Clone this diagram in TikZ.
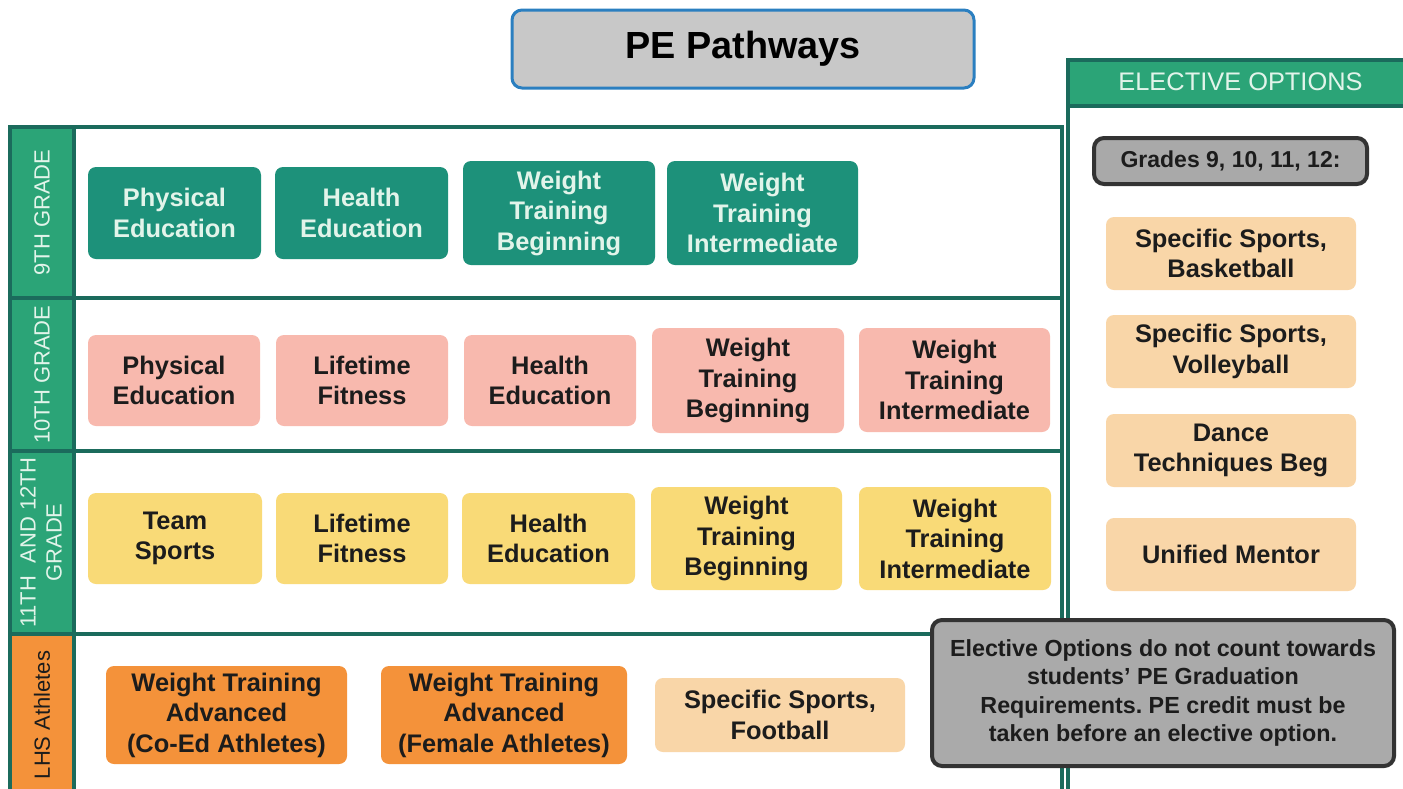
\documentclass[tikz,border=0pt]{standalone}
\usepackage{fontspec}
\setmainfont{Liberation Sans}
\frenchspacing
\definecolor{frame}{HTML}{1B6B5C}
\definecolor{lblgreen}{HTML}{2BA477}
\definecolor{teal}{HTML}{1D917A}
\definecolor{pink}{HTML}{F8B9AE}
\definecolor{yell}{HTML}{F9DA77}
\definecolor{orng}{HTML}{F4923A}
\definecolor{peach}{HTML}{F9D6A8}
\definecolor{notegrey}{HTML}{AAAAAA}
\definecolor{gradegrey}{HTML}{A9A9A9}
\definecolor{darkedge}{HTML}{333333}
\definecolor{titlegrey}{HTML}{C8C8C8}
\definecolor{titleblue}{HTML}{2B7FC0}
\definecolor{ink}{HTML}{1C1C1C}
\definecolor{lighttext}{HTML}{E2F4EA}
\begin{document}
\begin{tikzpicture}[x=0.5pt,y=-0.5pt,
  sz/.style 2 args={minimum width=#1*0.5pt, minimum height=#2*0.5pt},
  box/.style={rounded corners=4pt, inner sep=0pt, align=center, text=ink,
    font=\bfseries\fontsize{12.7}{15.25}\selectfont},
  tealbox/.style={box, fill=teal, text=lighttext},
  pinkbox/.style={box, fill=pink},
  yellbox/.style={box, fill=yell},
  orngbox/.style={box, fill=orng},
  peachbox/.style={box, fill=peach},
  gridline/.style={draw=frame, line width=2pt},
  rowlabel/.style={rotate=90, align=center, text=lighttext, inner sep=0pt,
    font=\fontsize{11}{13}\selectfont},
]
\path[use as bounding box, clip] (0,0) rectangle (1403,788);

% ---- main grid ----
\fill[white] (10,127) rectangle (1062,800);
\fill[lblgreen] (10,127) rectangle (74,634);
\fill[orng] (10,634) rectangle (74,800);
\draw[gridline] (10,127) rectangle (1062,800);
\draw[gridline] (74,127) -- (74,800);
\draw[gridline] (10,298) -- (1062,298);
\draw[gridline] (10,451) -- (1062,451);
\draw[gridline] (10,634) -- (1062,634);

% row labels
\node[rowlabel] (l9) at (42,212.5) {9TH GRADE};
\node[rowlabel] (l10) at (42,374.5) {10TH GRADE};
\node[rowlabel] (l11) at (41,542.5) {11TH\ \ AND 12TH\\GRADE};
\node[rowlabel, text=ink] (llhs) at (42,715) {LHS Athletes};

% ---- elective panel ----
\fill[white] (1068,60) rectangle (1410,800);
\fill[lblgreen] (1068,60) rectangle (1410,106);
\draw[gridline, line width=2.2pt] (1068,800) -- (1068,60) -- (1410,60);
\draw[gridline, line width=2.2pt] (1068,106) -- (1410,106);
\node[text=lighttext, font=\fontsize{12.7}{15}\selectfont] (elechdr) at (1240.5,82) {ELECTIVE OPTIONS};

% ---- title ----
\node[draw=titleblue, line width=1.5pt, fill=titlegrey, rounded corners=5pt,
  sz={462}{78}, font=\bfseries\fontsize{18.9}{22}\selectfont, text=black] (title) at (743,49) {PE Pathways};

% ---- row 1 (9th grade) ----
\node[tealbox, sz={173}{92}] (a1) at (174.5,213) {Physical\\Education};
\node[tealbox, sz={173}{92}] (a2) at (361.5,213) {Health\\Education};
\node[tealbox, sz={192}{104}] (a3) at (559,213) {Weight\\Training\\Beginning};
\node[tealbox, sz={191}{104}] (a4) at (762.5,213) {Weight\\Training\\Intermediate};

% ---- row 2 (10th grade) ----
\node[pinkbox, sz={172}{91}] (b1) at (174,380.5) {Physical\\Education};
\node[pinkbox, sz={172}{91}] (b2) at (362,380.5) {Lifetime\\Fitness};
\node[pinkbox, sz={172}{91}] (b3) at (550,380.5) {Health\\Education};
\node[pinkbox, sz={192}{105}] (b4) at (748,380.5) {Weight\\Training\\Beginning};
\node[pinkbox, sz={191}{104}] (b5) at (954.5,380) {Weight\\Training\\Intermediate};

% ---- row 3 (11th and 12th grade) ----
\node[yellbox, sz={174}{91}] (c1) at (175,538.5) {Team\\Sports};
\node[yellbox, sz={172}{91}] (c2) at (362,538.5) {Lifetime\\Fitness};
\node[yellbox, sz={173}{91}] (c3) at (548.5,538.5) {Health\\Education};
\node[yellbox, sz={191}{103}] (c4) at (746.5,538.5) {Weight\\Training\\Beginning};
\node[yellbox, sz={192}{103}] (c5) at (955,538.5) {Weight\\Training\\Intermediate};

% ---- row 4 (LHS athletes) ----
\node[orngbox, sz={241}{98}] (d1) at (226.5,715) {Weight Training\\Advanced\\(Co-Ed Athletes)};
\node[orngbox, sz={246}{98}] (d2) at (504,715) {Weight Training\\Advanced\\(Female Athletes)};
\node[peachbox, sz={250}{74}] (d3) at (780,715) {Specific Sports,\\Football};

% ---- elective options ----
\node[box, draw=darkedge, line width=2pt, fill=gradegrey, rounded corners=5pt,
  sz={273}{46}, font=\bfseries\fontsize{11.5}{14}\selectfont] (grades) at (1230.5,161) {Grades 9, 10, 11, 12:};
\node[peachbox, sz={250}{73}] (e1) at (1231,253.5) {Specific Sports,\\Basketball};
\node[peachbox, sz={250}{73}] (e2) at (1231,351.5) {Specific Sports,\\Volleyball};
\node[peachbox, sz={250}{73}] (e3) at (1231,450.5) {Dance\\Techniques Beg};
\node[peachbox, sz={250}{73}] (e4) at (1231,554.5) {Unified Mentor};

% ---- note ----
\node[box, draw=darkedge, line width=2pt, fill=notegrey, rounded corners=5pt,
  sz={462}{146}, font=\bfseries\fontsize{11.65}{14.25}\selectfont] (note) at (1163,693)
  {Elective Options do not count towards\\students{\char"27} PE Graduation\\Requirements. PE credit must be\\taken before an elective option.};
\end{tikzpicture}
\end{document}
